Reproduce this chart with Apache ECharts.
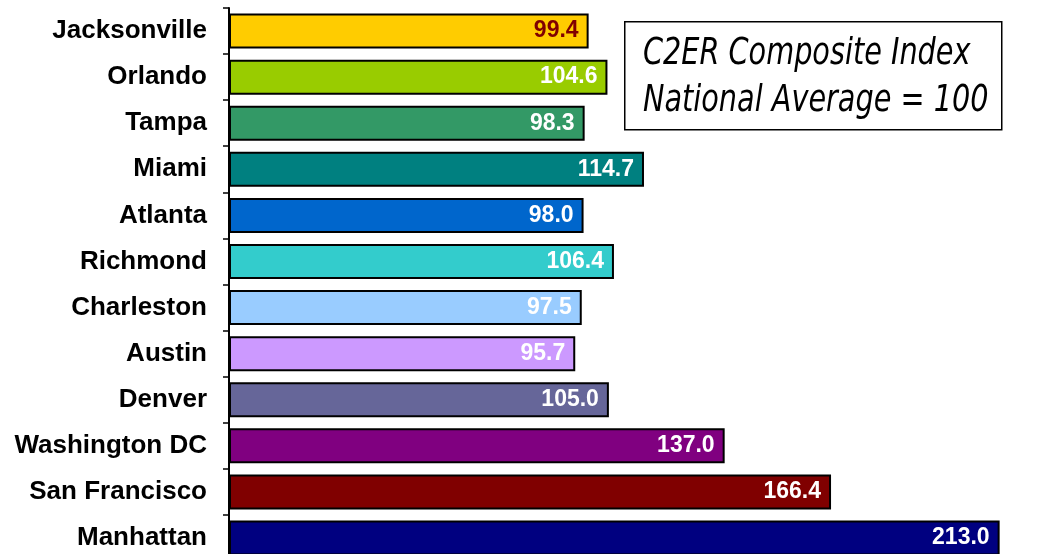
<!DOCTYPE html>
<html>
<head>
<meta charset="utf-8">
<script src="https://cdn.jsdelivr.net/npm/echarts@6/dist/echarts.min.js"></script>
<style>
  html, body { margin: 0; padding: 0; background: #fff; }
  #chart { width: 1043px; height: 554px; }
</style>
</head>
<body>
<div id="chart"></div>
<script>
var cities = ['Jacksonville', 'Orlando', 'Tampa', 'Miami', 'Atlanta', 'Richmond',
              'Charleston', 'Austin', 'Denver', 'Washington DC', 'San Francisco', 'Manhattan'];
var indexValues = [99.4, 104.6, 98.3, 114.7, 98.0, 106.4, 97.5, 95.7, 105.0, 137.0, 166.4, 213.0];
var barColors = ['#FFCC00', '#99CC00', '#339966', '#008080', '#0066CC', '#33CCCC',
                 '#99CCFF', '#CC99FF', '#666699', '#800080', '#800000', '#000080'];
var labelColors = ['#800000', '#fff', '#fff', '#fff', '#fff', '#fff',
                   '#fff', '#fff', '#fff', '#fff', '#fff', '#fff'];
var noteLines = ['C2ER Composite Index', 'National Average = 100'];

var chart = echarts.init(document.getElementById('chart'));

var barData = indexValues.map(function (v, i) {
    return {
        value: v,
        itemStyle: { color: barColors[i] },
        label: { color: labelColors[i] }
    };
});

chart.setOption({
    animation: false,
    grid: {
        left: 229, top: 8, width: 3.618 * 220, height: 553,
        outerBoundsMode: 'none'
    },
    xAxis: { type: 'value', min: 0, max: 220, show: false },
    yAxis: {
        type: 'category',
        data: cities,
        inverse: true,
        axisLine: { lineStyle: { color: '#000', width: 2 } },
        axisTick: { show: true, length: 6, lineStyle: { color: '#000', width: 1.5 } },
        axisLabel: {
            color: '#000',
            fontFamily: 'Liberation Sans, Arial, sans-serif',
            fontWeight: 'bold',
            fontSize: 26,
            margin: 22
        }
    },
    series: [{
        type: 'bar',
        data: barData,
        barWidth: 35,
        itemStyle: { borderColor: '#000', borderWidth: 2 },
        label: {
            show: true,
            position: 'insideRight',
            distance: 10,
            fontFamily: 'Liberation Sans, Arial, sans-serif',
            fontWeight: 'bold',
            fontSize: 23,
            formatter: function (p) { return p.value.toFixed(1); }
        }
    }],
    graphic: [{
        type: 'rect',
        left: 624, top: 21,
        shape: { width: 377, height: 108 },
        style: { fill: '#fff', stroke: '#000', lineWidth: 1.5 }
    }, {
        type: 'text',
        x: 643, y: 31,
        scaleX: 0.84,
        style: {
            text: noteLines.join('\n'),
            fill: '#000',
            fontFamily: 'DejaVu Sans Condensed, sans-serif',
            fontStyle: 'italic',
            fontSize: 38,
            lineHeight: 47
        }
    }]
});
</script>
</body>
</html>
